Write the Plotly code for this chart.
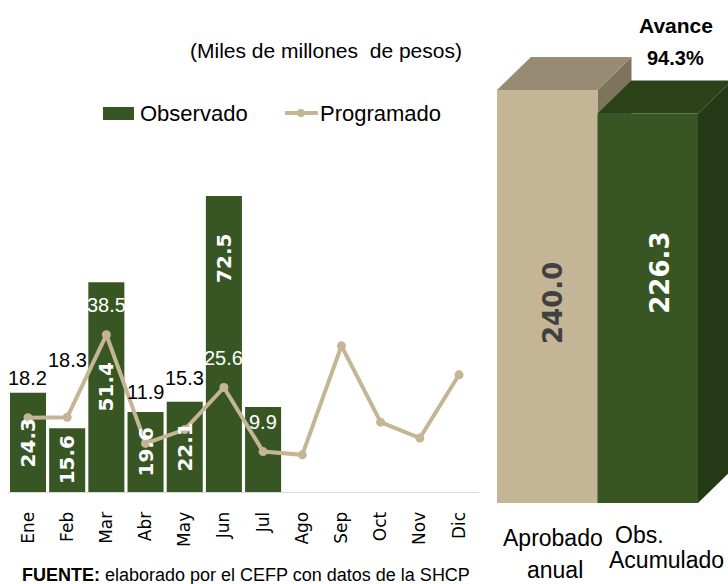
import plotly.graph_objects as go

# ---------------- data ----------------
months = ["Ene", "Feb", "Mar", "Abr", "May", "Jun", "Jul", "Ago", "Sep", "Oct", "Nov", "Dic"]
observado = [24.3, 15.6, 51.4, 19.6, 22.1, 72.5, 20.8]
programado = [18.2, 18.3, 38.5, 11.9, 15.3, 25.6, 9.9, 9.1, 35.8, 17.1, 13.2, 28.7]
resumen_cats = ["Aprobado anual", "Obs. Acumulado"]
resumen_vals = [240.0, 226.3]
avance_pct = 94.3

# ---------------- styles ----------------
W, H = 728, 584
GREEN = "#375623"
GREEN_TOP = "#2B4219"
GREEN_SIDE = "#243A17"
TAN = "#C4B596"
TAN_TOP = "#978B73"
TAN_SIDE = "#7E735D"
LINE = "#C4B594"
REG = "Liberation Sans, Arial, sans-serif"
BOLD = "DejaVu Sans, Arial, sans-serif"

def px(x):
    return x / W

def py(y):
    return 1 - y / H

# label placement (data units) for the left panel
prog_label_y = [27.9, 32.3, 45.8, 24.5, 27.9, 32.8, 17.1]
prog_label_white = [False, False, True, False, False, True, True]
obs_label_y = [v / 2 for v in observado]
obs_label_y[5] = 57.3
obs_label_show = [True, True, True, True, True, True, False]

fig = go.Figure()

# left panel: observado bars
fig.add_trace(go.Bar(
    x=months[:len(observado)], y=observado, marker=dict(color=GREEN, line=dict(width=0)),
    xaxis="x", yaxis="y", showlegend=False, hoverinfo="skip",
))
# programado line
fig.add_trace(go.Scatter(
    x=months, y=programado, mode="lines+markers",
    line=dict(color=LINE, width=4), marker=dict(color=LINE, size=9),
    xaxis="x", yaxis="y", showlegend=False, hoverinfo="skip",
))

# right panel: 3D-like bars
depth_x = 0.338   # in x2 units
depth_y = 19.2    # in y2 units
front_cols = [TAN, GREEN]
top_cols = [TAN_TOP, GREEN_TOP]
side_cols = [TAN_SIDE, GREEN_SIDE]
fig.add_trace(go.Bar(
    x=[0, 1], y=resumen_vals, width=[1, 1], marker=dict(color=front_cols, line=dict(width=0)),
    xaxis="x2", yaxis="y2", showlegend=False, hoverinfo="skip",
))

shapes = []
for i, v in enumerate(resumen_vals):
    x0, x1 = i - 0.5, i + 0.5
    layer = "below" if i == 0 else "above"
    side = f"M {x1},0 L {x1},{v} L {x1+depth_x},{v+depth_y} L {x1+depth_x},{depth_y} Z"
    top = f"M {x0},{v} L {x0+depth_x},{v+depth_y} L {x1+depth_x},{v+depth_y} L {x1},{v} Z"
    shapes.append(dict(type="path", path=side, xref="x2", yref="y2", fillcolor=side_cols[i],
                       line=dict(width=0), layer=layer))
    shapes.append(dict(type="path", path=top, xref="x2", yref="y2", fillcolor=top_cols[i],
                       line=dict(width=0), layer="above"))

# custom legend
shapes.append(dict(type="rect", xref="paper", yref="paper", x0=px(103), x1=px(134), y0=py(120), y1=py(107),
                   fillcolor=GREEN, line=dict(width=0)))
shapes.append(dict(type="line", xref="paper", yref="paper", x0=px(285), x1=px(318), y0=py(113), y1=py(113),
                   line=dict(color=LINE, width=4)))
shapes.append(dict(type="circle", xref="paper", yref="paper", x0=px(297), x1=px(305), y0=py(117), y1=py(109),
                   fillcolor=LINE, line=dict(width=0)))

annotations = []

def note(**kw):
    kw.setdefault("showarrow", False)
    kw.setdefault("xanchor", "center")
    kw.setdefault("yanchor", "middle")
    annotations.append(kw)

# programado labels
for i, v in enumerate(programado[:len(prog_label_y)]):
    note(x=months[i], y=prog_label_y[i], xref="x", yref="y", text=f"{v:.1f}",
         font=dict(family=REG, size=20, color="white" if prog_label_white[i] else "black"))
# observado labels (rotated)
for i, v in enumerate(observado):
    if not obs_label_show[i]:
        continue
    note(x=months[i], y=obs_label_y[i], xref="x", yref="y", text=f"<b>{v:.1f}</b>",
         textangle=-90, font=dict(family=BOLD, size=20, color="white"))
# right bar labels
note(x=0.057, y=116.2, xref="x2", yref="y2", text=f"<b>{resumen_vals[0]:.1f}</b>",
     textangle=-90, font=dict(family=BOLD, size=26, color="#404040"))
note(x=1.12, y=133.7, xref="x2", yref="y2", text=f"<b>{resumen_vals[1]:.1f}</b>",
     textangle=-90, font=dict(family=BOLD, size=26, color="white"))
# right category labels
cat_lines = [("Aprobado", 553, 538), ("anual", 555, 570), ("Obs.", 639, 535), ("Acumulado", 666, 560)]
for t, x, y in cat_lines:
    note(x=px(x), y=py(y), xref="paper", yref="paper", text=t,
         font=dict(family=REG, size=23, color="black"))
# avance
note(x=px(676), y=py(25), xref="paper", yref="paper", text="<b>Avance</b>",
     font=dict(family=REG, size=21, color="black"))
note(x=px(675), y=py(58), xref="paper", yref="paper", text=f"<b>{avance_pct:.1f}%</b>",
     font=dict(family=REG, size=20, color="black"))
# title
note(x=px(326), y=py(50), xref="paper", yref="paper", text="(Miles de millones  de pesos)",
     font=dict(family=REG, size=21, color="black"))
# legend text
note(x=px(138), y=py(113), xref="paper", yref="paper", text="Observado", xanchor="left",
     font=dict(family=REG, size=22, color="black"))
note(x=px(318), y=py(113), xref="paper", yref="paper", text="Programado", xanchor="left",
     font=dict(family=REG, size=22, color="black"))
# source
note(x=px(20), y=py(575), xref="paper", yref="paper",
     text="<b>FUENTE:</b> elaborado por el CEFP con datos de la SHCP", xanchor="left",
     font=dict(family=REG, size=18, color="black"))

fig.update_layout(
    width=W, height=H, margin=dict(l=0, r=0, t=0, b=0),
    paper_bgcolor="white", plot_bgcolor="rgba(0,0,0,0)",
    bargap=0.08, shapes=shapes, annotations=annotations,
    xaxis=dict(domain=[px(8.4), px(478.6)], type="category", categoryorder="array", categoryarray=months,
               range=[-0.5, 11.5], showline=True, linecolor="#D9D9D9", linewidth=1, showgrid=False,
               ticks="outside", ticklen=12, tickcolor="rgba(0,0,0,0)", tickangle=-90,
               tickfont=dict(family="DejaVu Sans, sans-serif", size=17, color="black"), fixedrange=True),
    yaxis=dict(domain=[py(492), py(83.7)], range=[0, 100], visible=False, fixedrange=True),
    xaxis2=dict(domain=[px(497), 1.0], range=[-0.5, (W - 497) / 100.5 - 0.5], visible=False, anchor="y2"),
    yaxis2=dict(domain=[py(503), 1.0], range=[0, 503 / 1.7208], visible=False, anchor="x2"),
)

fig.write_html("out.html", config={"displayModeBar": False},
               post_script="document.body.style.margin='0';document.body.style.overflow='hidden';")
